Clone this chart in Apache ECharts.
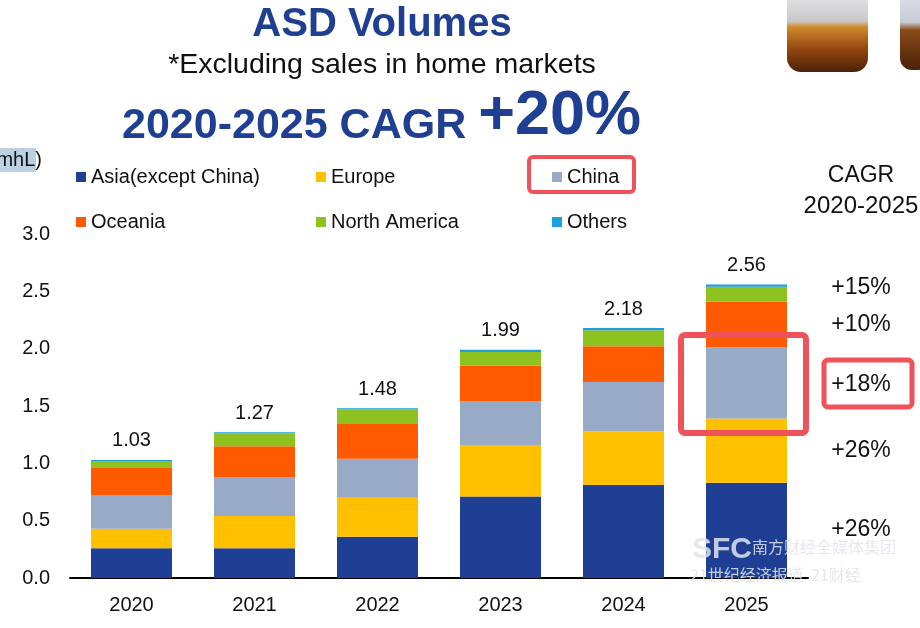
<!DOCTYPE html>
<html>
<head>
<meta charset="utf-8">
<title>ASD Volumes</title>
<script src="https://cdn.jsdelivr.net/npm/echarts@6/dist/echarts.min.js"></script>
<style>
  html, body { margin: 0; padding: 0; background: #fff; }
  #chart { width: 920px; height: 628px; }
</style>
</head>
<body>
<div id="chart"></div>
<script>
// data (million hL)
const years = ['2020', '2021', '2022', '2023', '2024', '2025']
const asia = [0.26, 0.26, 0.36, 0.71, 0.81, 0.83]
const europe = [0.17, 0.28, 0.34, 0.45, 0.47, 0.56]
const china = [0.29, 0.34, 0.34, 0.38, 0.43, 0.62]
const oceania = [0.24, 0.27, 0.31, 0.31, 0.31, 0.40]
const northAmerica = [0.06, 0.11, 0.12, 0.12, 0.14, 0.13]
const others = [0.01, 0.01, 0.01, 0.02, 0.02, 0.02]
const totals = ['1.03', '1.27', '1.48', '1.99', '2.18', '2.56']
const yTicks = [0, 0.5, 1.0, 1.5, 2.0, 2.5, 3.0]
const cagrLabels = ['+15%', '+10%', '+18%', '+26%', '+26%']

const FONT = "'Liberation Sans', Arial, sans-serif"
const BLUE = '#1F3F93'
const RED = '#F0525A'

const colors = {
    'Asia(except China)': '#1F3F94',
    'Europe': '#FFC000',
    'China': '#98AAC6',
    'Oceania': '#FF5A00',
    'North America': '#8DC21F',
    'Others': '#1CA0DC'
}

const seriesData = [
    ['Asia(except China)', asia],
    ['Europe', europe],
    ['China', china],
    ['Oceania', oceania],
    ['North America', northAmerica],
    ['Others', others]
]

// legend slots, one per item (3 columns x 2 rows)
const legendPos = [
    ['Asia(except China)', 71, 162],
    ['Europe', 311, 162],
    ['China', 547, 162],
    ['Oceania', 71, 207],
    ['North America', 311, 207],
    ['Others', 547, 207]
]

const chart = echarts.init(document.getElementById('chart'))

let series = seriesData.map(([name, values], i) => {
    let s = {
        name: name,
        type: 'bar',
        stack: 'total',
        barWidth: 81,
        itemStyle: { color: colors[name] },
        emphasis: { disabled: true },
        data: values
    }
    // total on top of the stack
    if (i == seriesData.length - 1) {
        s.label = {
            show: true,
            position: 'top',
            distance: 9,
            fontFamily: FONT,
            fontSize: 20,
            color: '#111',
            formatter: (p) => totals[p.dataIndex]
        }
    }
    return s
})

let legends = legendPos.map(([name, x, y]) => ({
    data: [name],
    left: x,
    top: y,
    icon: 'rect',
    itemWidth: 10,
    itemHeight: 10,
    selectedMode: false,
    textStyle: { fontFamily: FONT, fontSize: 20, color: '#111' }
}))

// CAGR column on the right
let cagrY = [288, 325, 385, 451, 530]
let cagrTexts = cagrLabels.map((t, i) => ({
    type: 'text',
    x: 861,
    y: cagrY[i],
    style: {
        text: t, fill: '#111', font: '23px ' + FONT,
        textAlign: 'center', textVerticalAlign: 'middle'
    }
}))

let graphics = [
    // bottles (top right)
    {
        type: 'rect', shape: { x: 787, y: -10, width: 81, height: 82, r: 14 },
        style: {
            fill: new echarts.graphic.LinearGradient(0, 0, 0, 1, [
                { offset: 0, color: '#e8e8ea' },
                { offset: 0.38, color: '#c9c9cc' },
                { offset: 0.45, color: '#d08a2e' },
                { offset: 0.7, color: '#9a4a12' },
                { offset: 1, color: '#4a2008' }
            ])
        }
    },
    {
        type: 'rect', shape: { x: 900, y: -10, width: 30, height: 80, r: 12 },
        style: {
            fill: new echarts.graphic.LinearGradient(0, 0, 0, 1, [
                { offset: 0, color: '#dfe3ea' },
                { offset: 0.4, color: '#c8ccd4' },
                { offset: 0.5, color: '#8a4a18' },
                { offset: 1, color: '#4a2008' }
            ])
        }
    },
    // titles
    {
        type: 'text', x: 382, y: 25,
        style: { text: 'ASD Volumes', fill: BLUE, font: 'bold 40px ' + FONT, textAlign: 'center', textVerticalAlign: 'middle' }
    },
    {
        type: 'text', x: 382, y: 65,
        style: { text: '*Excluding sales in home markets', fill: '#111', font: '28.5px ' + FONT, textAlign: 'center', textVerticalAlign: 'middle' }
    },
    {
        type: 'text', x: 122, y: 148,
        style: {
            text: '{a|2020-2025 CAGR }{b|+20%}',
            textVerticalAlign: 'bottom',
            rich: {
                a: { fill: BLUE, fontFamily: FONT, fontWeight: 'bold', fontSize: 43, verticalAlign: 'bottom' },
                b: { fill: BLUE, fontFamily: FONT, fontWeight: 'bold', fontSize: 63, verticalAlign: 'bottom' }
            }
        }
    },
    // unit label, cut at the left edge
    {
        type: 'rect', shape: { x: 0, y: 148, width: 36, height: 24 },
        style: { fill: '#BBD0E3' }
    },
    {
        type: 'text', x: 42, y: 160,
        style: { text: '(mhL)', fill: '#111', font: '20px ' + FONT, textAlign: 'right', textVerticalAlign: 'middle' }
    },
    // CAGR header
    {
        type: 'text', x: 861, y: 176,
        style: { text: 'CAGR', fill: '#111', font: '23px ' + FONT, textAlign: 'center', textVerticalAlign: 'middle' }
    },
    {
        type: 'text', x: 861, y: 206,
        style: { text: '2020-2025', fill: '#111', font: '24px ' + FONT, textAlign: 'center', textVerticalAlign: 'middle' }
    },
    // red highlight boxes
    {
        type: 'rect', shape: { x: 529, y: 157, width: 105, height: 35, r: 4 },
        style: { fill: 'none', stroke: RED, lineWidth: 4 }
    },
    {
        type: 'rect', shape: { x: 681, y: 335, width: 125, height: 98, r: 4 },
        style: { fill: 'none', stroke: RED, lineWidth: 6 }, z: 100
    },
    {
        type: 'rect', shape: { x: 824, y: 360, width: 88, height: 47, r: 4 },
        style: { fill: 'none', stroke: RED, lineWidth: 5 }
    },
    // watermark
    {
        type: 'text', x: 692, y: 550, z: 100,
        style: { text: 'SFC', fill: 'rgba(225,228,235,0.85)', font: 'bold 30px ' + FONT, textVerticalAlign: 'middle' }
    },
    {
        type: 'text', x: 752, y: 547, z: 100,
        style: { text: '南方财经全媒体集团', fill: 'rgba(225,228,235,0.85)', font: '16px "Noto Sans CJK SC"', textVerticalAlign: 'middle' }
    },
    {
        type: 'text', x: 690, y: 575, z: 100,
        style: { text: '21世纪经济报道  21财经', fill: 'rgba(225,228,235,0.85)', font: '16px "Noto Sans CJK SC"', textVerticalAlign: 'middle' }
    }
].concat(cagrTexts)

let option = {
    animation: false,
    backgroundColor: '#fff',
    legend: legends,
    grid: { left: 70, right: 112, top: 234, bottom: 50 },
    xAxis: {
        type: 'category',
        data: years,
        axisLine: { lineStyle: { color: '#000', width: 2 } },
        axisTick: { show: false },
        axisLabel: { fontFamily: FONT, fontSize: 20, color: '#111', margin: 17 }
    },
    yAxis: {
        type: 'value',
        min: yTicks[0],
        max: yTicks[yTicks.length - 1],
        interval: 0.5,
        splitLine: { show: false },
        axisLine: { show: false },
        axisTick: { show: false },
        axisLabel: {
            fontFamily: FONT, fontSize: 20, color: '#111', margin: 20,
            formatter: (v) => v.toFixed(1)
        }
    },
    graphic: graphics,
    series: series
}

chart.setOption(option)
</script>
</body>
</html>
